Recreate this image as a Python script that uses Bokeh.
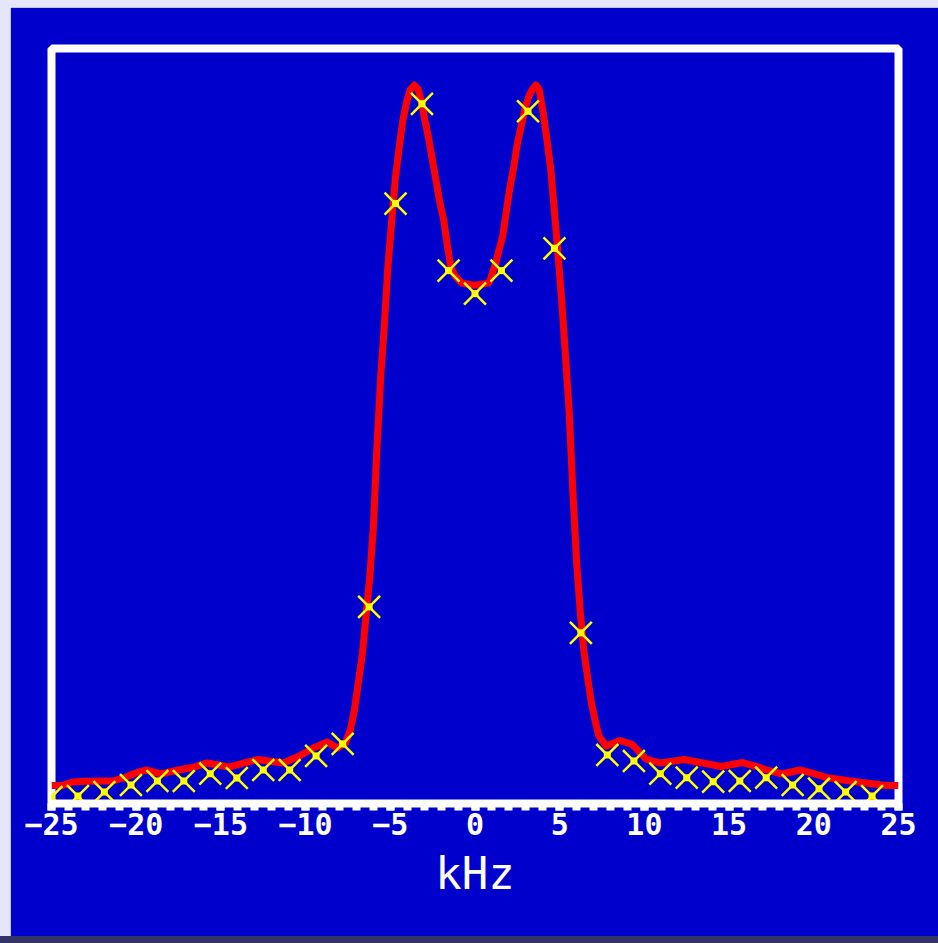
from bokeh.plotting import figure
from bokeh.models import Range1d, FixedTicker, Div
from bokeh.layouts import column, row
from bokeh.embed import file_html
from bokeh.resources import INLINE

# ---- data (kHz, arbitrary intensity) ----
fit_khz = [-25.0, -24.35, -23.76, -22.99, -22.11, -21.40, -20.69, -20.04, -19.40, -18.57,
           -17.51, -16.56, -15.80, -14.50, -13.62, -12.79, -11.31, -10.37, -9.54, -8.72,
           -8.13, -7.65, -7.36, -7.12, -6.89, -6.65, -6.45, -6.21, -6.00, -5.80,
           -5.56, -5.35, -5.15, -4.91, -4.71, -4.47, -4.26, -4.03, -3.82, -3.58,
           -3.35, -3.17, -2.96, -2.73, -2.52, -2.29, -2.08, -1.84, -1.64, -1.43,
           -1.19, -0.78, 0.0, 0.78, 0.90, 1.22, 1.64, 1.87, 2.05, 2.29,
           2.49, 2.73, 2.94, 3.17, 3.38, 3.58, 3.79, 4.03, 4.23, 4.47,
           4.68, 4.91, 5.12, 5.35, 5.56, 5.77, 6.00, 6.21, 6.42, 6.65,
           6.86, 7.09, 7.30, 7.74, 8.57, 9.28, 9.69, 10.13, 10.93, 12.35,
           13.44, 14.53, 15.80, 16.65, 17.21, 18.10, 19.19, 20.07, 20.75, 22.37,
           24.26, 25.0]
fit_int = [2.39, 2.39, 2.85, 2.94, 2.98, 2.98, 3.42, 4.04, 4.44, 3.91,
           4.44, 4.84, 5.37, 4.84, 5.37, 5.83, 5.37, 6.30, 7.36, 8.15,
           7.36, 8.02, 9.74, 12.39, 15.97, 19.81, 24.45, 30.15, 36.51, 46.59,
           56.79, 63.42, 70.84, 77.34, 82.64, 87.01, 90.46, 92.98, 94.57, 95.16,
           94.57, 92.98, 90.52, 88.01, 85.29, 82.37, 79.66, 77.20, 74.02, 71.11,
           69.91, 68.92, 68.65, 68.92, 69.38, 71.57, 75.22, 78.73, 81.44, 84.36,
           87.27, 89.73, 91.92, 93.64, 94.57, 95.16, 94.57, 91.38, 88.20, 84.03,
           78.66, 72.56, 66.53, 59.05, 51.89, 41.62, 31.88, 25.51, 20.34, 16.63,
           13.45, 11.00, 9.01, 7.62, 8.35, 7.82, 6.83, 5.83, 5.37, 5.83,
           5.37, 4.90, 5.43, 4.90, 4.44, 3.91, 4.44, 3.91, 3.45, 2.92,
           2.39, 2.39]

data_khz = [-25.0, -23.44, -21.88, -20.31, -18.75, -17.19, -15.63, -14.06,
            -12.5, -10.94, -9.38, -7.81, -6.25, -4.69, -3.13, -1.56,
            0.0, 1.56, 3.13, 4.69, 6.25, 7.81, 9.38, 10.94,
            12.5, 14.06, 15.63, 17.19, 18.75, 20.31, 21.88, 23.44]
data_int = [0.86, 0.99, 1.52, 2.45, 2.98, 2.98, 3.95, 3.38,
            4.44, 4.44, 6.30, 7.89, 26.04, 79.46, 92.67, 70.58,
            67.53, 70.58, 91.69, 73.53, 22.60, 6.43, 5.63, 3.95,
            3.42, 2.89, 2.98, 3.42, 2.45, 1.96, 1.52, 0.99]

major_ticks = [-25, -20, -15, -10, -5, 0, 5, 10, 15, 20, 25]
minor_ticks = list(range(-25, 26))

BLUE = "#0000cc"
LAVENDER = "#e6e6fa"
DARK = "#333366"

p = figure(width=928, height=929, x_range=Range1d(-25, 25), y_range=Range1d(0, 100),
           output_backend="svg", toolbar_location=None, y_axis_location=None,
           min_border_left=41, min_border_right=40, min_border_top=41, min_border_bottom=133,
           background_fill_color=BLUE, border_fill_color=BLUE,
           outline_line_color="white", outline_line_width=8, outline_line_alpha=1.0,
           margin=0)
p.grid.visible = False

ax = p.xaxis[0]
ax.ticker = FixedTicker(ticks=major_ticks, minor_ticks=minor_ticks)
ax.axis_line_color = "white"
ax.axis_line_width = 7
ax.major_tick_line_color = "white"
ax.major_tick_line_width = 8
ax.major_tick_in = 0
ax.major_tick_out = 7
ax.minor_tick_line_color = "white"
ax.minor_tick_line_width = 8
ax.minor_tick_in = 0
ax.minor_tick_out = 7
ax.major_label_text_color = "white"
ax.major_label_text_font = "DejaVu Sans Mono"
ax.major_label_text_font_size = "30px"
ax.major_label_text_font_style = "bold"
ax.major_label_standoff = 2
ax.axis_label = "kHz"
ax.axis_label_text_color = "white"
ax.axis_label_text_font = "DejaVu Sans Mono"
ax.axis_label_text_font_size = "44px"
ax.axis_label_text_font_style = "normal"
ax.axis_label_standoff = 10

p.line(fit_khz, fit_int, line_color="#ff0000", line_width=7, line_join="round")
p.scatter(data_khz, data_int, marker="x", size=31, line_color="#ffff00", line_width=2.5)
p.scatter(data_khz, data_int, marker="square", size=7, fill_color="#ffff00", line_color=None)

top_strip = Div(text="", width=938, height=7, margin=0, styles={"background-color": LAVENDER})
left_strip = Div(text="", width=10, height=929, margin=0, styles={"background-color": LAVENDER})
bottom_strip = Div(text="", width=938, height=7, margin=0, styles={"background-color": DARK})

layout = column(top_strip, row(left_strip, p, spacing=0, margin=0), bottom_strip, spacing=0, margin=0)

open("out.html", "w").write(file_html(layout, INLINE))
